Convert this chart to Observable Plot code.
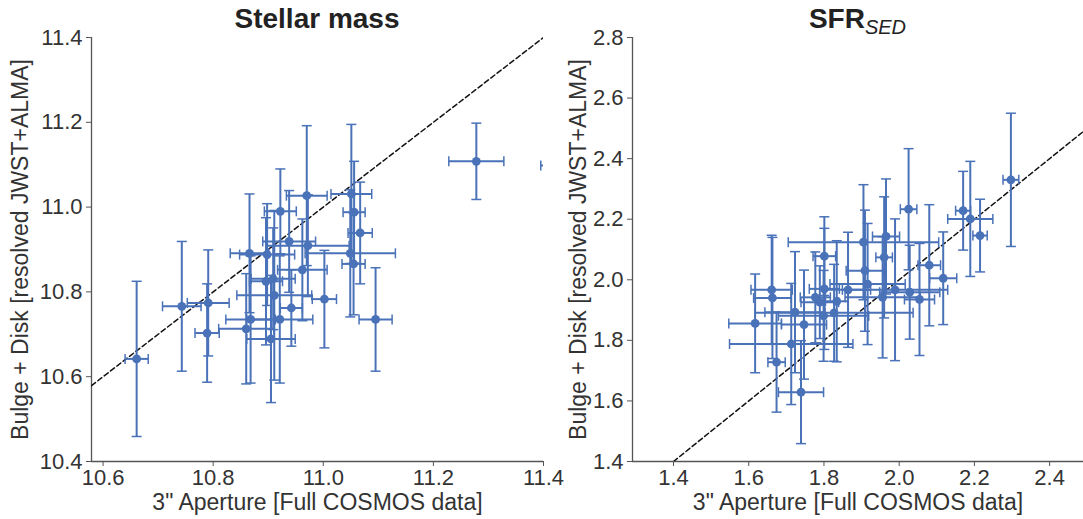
<!DOCTYPE html>
<html><head><meta charset="utf-8">
<script src="https://cdn.jsdelivr.net/npm/d3@7"></script>
<script src="https://cdn.jsdelivr.net/npm/@observablehq/plot@0.6"></script>
<style>
body{margin:0;background:#fff;font-family:"Liberation Sans",Arial,sans-serif;}
#wrap{position:relative;width:1083px;height:519px;overflow:hidden;background:#fff}
.panel{position:absolute;top:0;height:519px}
.title{position:absolute;top:3px;line-height:32px;font-weight:bold;font-size:28px;color:#222;text-align:center;white-space:nowrap;z-index:2}
.panel svg{position:absolute;top:28px;left:0;z-index:1}
.sub{font-size:20px;font-style:italic;font-weight:normal;position:relative;top:6px}
</style></head><body>
<div id="wrap">
 <div class="panel" id="p1" style="left:0;width:560px"><div class="title" style="left:91px;width:452px">Stellar mass</div></div>
 <div class="panel" id="p2" style="left:560px;width:523px"><div class="title" style="left:72px;width:451px">SFR<span class="sub">SED</span></div></div>
</div>
<script>
// Stellar mass panel
const massX    = [10.661,10.743,10.791,10.789,10.866,10.922,10.970,10.972,10.962,10.938,10.898,10.896,10.909,10.911,10.942,10.921,10.868,10.860,10.905,11.002,11.095,11.051,11.056,11.067,11.049,11.055,11.278,11.450];
const massY    = [10.642,10.766,10.774,10.703,10.891,10.990,11.027,10.909,10.852,10.919,10.888,10.825,10.831,10.792,10.762,10.735,10.735,10.713,10.689,10.783,10.735,11.031,10.988,10.939,10.891,10.866,11.108,11.098];
const massXerr = [0.021,0.035,0.038,0.022,0.035,0.029,0.037,0.075,0.045,0.048,0.050,0.030,0.040,0.068,0.020,0.060,0.045,0.050,0.044,0.022,0.030,0.037,0.020,0.022,0.082,0.021,0.050,0.055];
const massYerr = [0.183,0.153,0.125,0.116,0.140,0.100,0.165,0.120,0.120,0.120,0.120,0.150,0.120,0.200,0.090,0.150,0.150,0.130,0.150,0.115,0.122,0.164,0.120,0.120,0.150,0.120,0.090,0.090];
const massXTicks = [10.6,10.8,11.0,11.2,11.4];
const massYTicks = [10.4,10.6,10.8,11.0,11.2,11.4];

// SFR_SED panel
const sfrX    = [1.617,1.661,1.663,1.674,1.713,1.739,1.723,1.747,1.777,1.789,1.801,1.801,1.799,1.827,1.834,1.864,1.905,1.909,1.916,2.297,2.170,2.189,2.215,2.025,1.965,1.960,1.989,1.956,2.028,2.054,2.080,2.117];
const sfrY    = [1.856,1.967,1.940,1.728,1.788,1.629,1.893,1.852,1.942,1.926,2.078,1.970,1.881,1.891,1.929,1.967,2.124,2.030,1.986,2.330,2.228,2.201,2.146,2.233,2.143,2.074,1.967,1.942,1.959,1.935,2.048,2.005];
const sfrXerr = [0.070,0.055,0.050,0.023,0.164,0.060,0.080,0.060,0.040,0.050,0.030,0.040,0.120,0.210,0.030,0.060,0.200,0.050,0.100,0.021,0.020,0.060,0.019,0.022,0.036,0.022,0.140,0.100,0.080,0.040,0.030,0.036];
const sfrYerr = [0.163,0.180,0.200,0.165,0.200,0.170,0.200,0.180,0.150,0.120,0.130,0.200,0.150,0.160,0.200,0.190,0.190,0.200,0.200,0.220,0.130,0.190,0.120,0.200,0.190,0.200,0.234,0.200,0.155,0.185,0.200,0.153];
const sfrXTicks = [1.4,1.6,1.8,2.0,2.2,2.4];
const sfrYTicks = [1.4,1.6,1.8,2.0,2.2,2.4,2.6,2.8];

const xLabel = '3" Aperture [Full COSMOS data]';
const yLabel = "Bulge + Disk [resolved JWST+ALMA]";

const BLUE = "#4a72b8";
const rowsOf = (X,Y,XE,YE) => X.map((x,i)=>({x, y:Y[i], xe:XE[i], ye:YE[i]}));
const capV = {draw(ctx){ ctx.moveTo(0,-5); ctx.lineTo(0,5); }};
const capH = {draw(ctx){ ctx.moveTo(-5,0); ctx.lineTo(5,0); }};

function panel({rows, xDomain, yDomain, xTicks, yTicks, width, marginLeft, marginRight, yLabelDx, diag}) {
  const fmt = d3.format(".1f");
  return Plot.plot({
    width, height: 491, marginTop: 9, marginBottom: 58, marginLeft, marginRight,
    style: {fontFamily: "'Liberation Sans', Arial, sans-serif", fontSize: "22px", color: "#333", background: "transparent", overflow: "visible"},
    x: {domain: xDomain},
    y: {domain: yDomain},
    marks: [
      Plot.ruleX([xDomain[0]], {stroke: "#555", strokeWidth: 1.3}),
      Plot.ruleY([yDomain[0]], {stroke: "#555", strokeWidth: 1.3}),
      Plot.axisX({ticks: xTicks, tickFormat: fmt, tickSize: 5, tickPadding: 3, stroke: "#555", fontSize: 22, label: null}),
      Plot.axisY({ticks: yTicks, tickFormat: fmt, tickSize: 5, tickPadding: 4, stroke: "#555", fontSize: 22, label: null}),
      Plot.text([xLabel], {text: d => d, frameAnchor: "bottom", textAnchor: "middle", lineAnchor: "middle", dy: 41, fontSize: 23, fill: "#333"}),
      Plot.text([yLabel], {text: d => d, frameAnchor: "left", textAnchor: "middle", lineAnchor: "middle", rotate: -90, dx: yLabelDx, fontSize: 23, fill: "#333"}),
      Plot.line(diag, {x: d => d[0], y: d => d[1], stroke: "#111", strokeWidth: 1.5, strokeDasharray: "5,3", clip: true}),
      Plot.link(rows, {x1: d => d.x - d.xe, x2: d => d.x + d.xe, y1: "y", y2: "y", stroke: BLUE, strokeWidth: 2, clip: true}),
      Plot.link(rows, {x1: "x", x2: "x", y1: d => d.y - d.ye, y2: d => d.y + d.ye, stroke: BLUE, strokeWidth: 2, clip: true}),
      Plot.dot(rows, {x: d => d.x - d.xe, y: "y", symbol: capV, r: 5, fill: "none", stroke: BLUE, strokeWidth: 1.5, clip: true}),
      Plot.dot(rows, {x: d => d.x + d.xe, y: "y", symbol: capV, r: 5, fill: "none", stroke: BLUE, strokeWidth: 1.5, clip: true}),
      Plot.dot(rows, {x: "x", y: d => d.y - d.ye, symbol: capH, r: 5, fill: "none", stroke: BLUE, strokeWidth: 1.5, clip: true}),
      Plot.dot(rows, {x: "x", y: d => d.y + d.ye, symbol: capH, r: 5, fill: "none", stroke: BLUE, strokeWidth: 1.5, clip: true}),
      Plot.dot(rows, {x: "x", y: "y", r: 4.4, fill: BLUE, stroke: "none", clip: true})
    ]
  });
}

document.getElementById("p1").appendChild(panel({
  rows: rowsOf(massX, massY, massXerr, massYerr),
  xDomain: [10.579, 11.4], yDomain: [10.4, 11.4], xTicks: massXTicks, yTicks: massYTicks,
  width: 560, marginLeft: 91, marginRight: 17, yLabelDx: -71,
  diag: [[10.579, 10.579], [11.4, 11.4]]
}));
document.getElementById("p2").appendChild(panel({
  rows: rowsOf(sfrX, sfrY, sfrXerr, sfrYerr),
  xDomain: [1.291, 2.49], yDomain: [1.4, 2.8], xTicks: sfrXTicks, yTicks: sfrYTicks,
  width: 523, marginLeft: 72, marginRight: 0, yLabelDx: -54,
  diag: [[1.4, 1.4], [2.49, 2.49]]
}));
</script>
</body></html>
